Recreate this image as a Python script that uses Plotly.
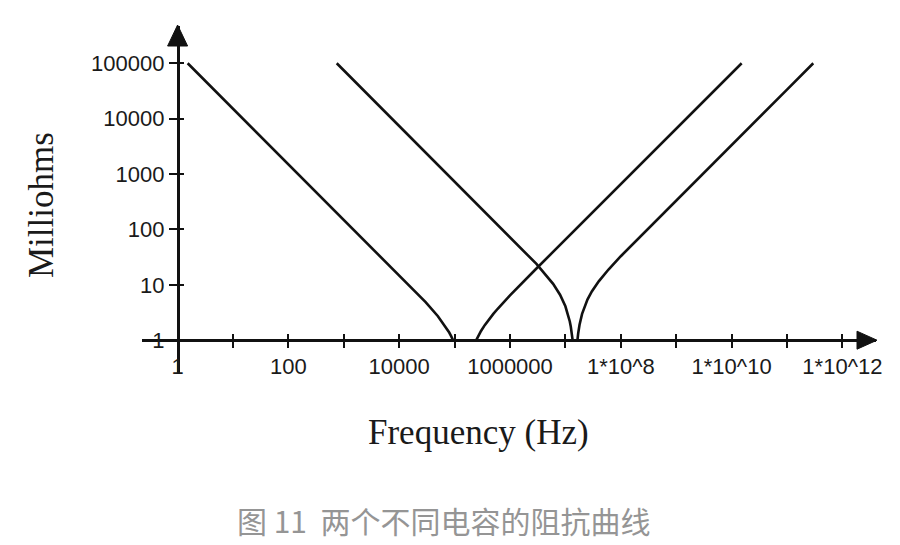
import plotly.graph_objects as go

# ---- data (frequency in Hz, impedance in milliohms) ----
cap1_freq_desc = [1.52, 10, 100, 1000, 1e4, 2e4, 3e4, 5e4, 7e4, 8e4, 8.7e4, 9e4, 9.4e4]
cap1_z_desc = [100000, 15200, 1520, 152, 15.13, 7.47, 4.87, 2.71, 1.71, 1.374, 1.175, 1.097, 1.0]
cap1_freq_asc = [2.46e5, 2.5e5, 2.6e5, 3e5, 3.5e5, 4e5, 5e5, 6e5, 1e6, 3e6, 1e7, 1e8, 1e9, 1e10, 1.52e10]
cap1_z_asc = [1.0, 1.037, 1.126, 1.467, 1.869, 2.252, 2.985, 3.694, 6.427, 19.69, 65.79, 657.9, 6579, 65790, 100000]

cap2_freq_desc = [745, 1e4, 1e5, 1e6, 3e6, 6e6, 8e6, 1e7, 1.1e7, 1.2e7, 1.25e7, 1.3e7, 1.34e7, 1.35e7]
cap2_z_desc = [100000, 7450, 745, 74.2, 23.83, 10.40, 6.625, 4.09, 3.081, 2.18, 1.765, 1.368, 1.063, 1.0]
cap2_freq_asc = [1.65e7, 1.66e7, 1.7e7, 1.8e7, 2e7, 2.5e7, 3e7, 4e7, 6e7, 1e8, 1e9, 1e10, 1e11, 2.98e11]
cap2_z_asc = [1.0, 1.082, 1.32, 1.90, 2.987, 5.41, 7.58, 11.56, 18.9, 32.81, 335.5, 3356, 33557, 100000]

x_tick_vals = [10 ** k for k in range(0, 13)]
x_tick_text = ["1", "", "100", "", "10000", "", "1000000", "", "1*10^8", "", "1*10^10", "", "1*10^12"]
y_tick_vals = [1, 10, 100, 1000, 10000, 100000]
y_tick_text = ["1", "10", "100", "1000", "10000", "100000"]

x_title = "Frequency (Hz)"
y_title = "Milliohms"
caption = "图 11  两个不同电容的阻抗曲线"

# ---- layout geometry ----
X_RANGE = [-0.6426, 12.6065]
Y_RANGE = [-0.6104, 5.6732]
x_pos = (0 - Y_RANGE[0]) / (Y_RANGE[1] - Y_RANGE[0])   # paper y of Z = 1
y_pos = (0 - X_RANGE[0]) / (X_RANGE[1] - X_RANGE[0])   # paper x of f = 1

LINE = "#111111"
TICKFONT = dict(family="Liberation Sans, Arial, sans-serif", size=22, color="#1a1a1a")

fig = go.Figure()
fig.add_trace(go.Scatter(
    x=cap1_freq_desc + [None] + cap1_freq_asc,
    y=cap1_z_desc + [None] + cap1_z_asc,
    mode="lines", line=dict(color=LINE, width=2.6), connectgaps=False,
    xaxis="x", yaxis="y", showlegend=False, hoverinfo="skip"))
fig.add_trace(go.Scatter(
    x=cap2_freq_desc + [None] + cap2_freq_asc,
    y=cap2_z_desc + [None] + cap2_z_asc,
    mode="lines", line=dict(color=LINE, width=2.6), connectgaps=False,
    xaxis="x2", yaxis="y2", showlegend=False, hoverinfo="skip"))

common_x = dict(type="log", range=X_RANGE, showgrid=False, zeroline=False,
                tickvals=x_tick_vals, fixedrange=True)
common_y = dict(type="log", range=Y_RANGE, showgrid=False, zeroline=False,
                tickvals=y_tick_vals, fixedrange=True)

fig.update_layout(
    width=892, height=537,
    margin=dict(l=134, r=24, t=18, b=171),
    paper_bgcolor="white", plot_bgcolor="white",
    xaxis=dict(**common_x, anchor="free", position=x_pos, side="bottom",
               showline=True, linecolor=LINE, linewidth=2.6,
               ticks="outside", ticklen=6, tickwidth=2, tickcolor=LINE,
               ticktext=x_tick_text, tickfont=TICKFONT, ticklabelstandoff=0),
    xaxis2=dict(**common_x, overlaying="x", anchor="free", position=x_pos, side="bottom",
                showline=False, ticks="inside", ticklen=6, tickwidth=2, tickcolor=LINE,
                showticklabels=False),
    yaxis=dict(**common_y, anchor="free", position=y_pos, side="left",
               showline=True, linecolor=LINE, linewidth=2.6,
               ticks="outside", ticklen=8, tickwidth=2, tickcolor=LINE,
               ticktext=y_tick_text, tickfont=TICKFONT),
    yaxis2=dict(**common_y, overlaying="y", anchor="free", position=y_pos, side="left",
                showline=False, ticks="inside", ticklen=5, tickwidth=2, tickcolor=LINE,
                showticklabels=False),
)

# arrowheads at the ends of the axes
fig.add_shape(type="path", xref="paper", yref="paper", xsizemode="pixel", ysizemode="pixel",
              xanchor=1, yanchor=x_pos, path="M 1,0 L -19,9 L -19,-9 Z",
              fillcolor=LINE, line=dict(color=LINE, width=1))
fig.add_shape(type="path", xref="paper", yref="paper", xsizemode="pixel", ysizemode="pixel",
              xanchor=y_pos, yanchor=1, path="M 0,1 L -10,-20 L 10,-20 Z",
              fillcolor=LINE, line=dict(color=LINE, width=1))

# titles and caption
fig.add_annotation(text=x_title, xref="paper", yref="paper", x=0.458, y=-0.167,
                   showarrow=False, xanchor="center", yanchor="middle",
                   font=dict(family="Liberation Serif, Times New Roman, serif", size=35, color="#1a1a1a"))
fig.add_annotation(text=y_title, xref="paper", yref="paper", x=-0.136, y=0.486,
                   showarrow=False, xanchor="center", yanchor="middle", textangle=-90,
                   font=dict(family="Liberation Serif, Times New Roman, serif", size=35, color="#1a1a1a"))
fig.add_annotation(text=caption, xref="paper", yref="paper", x=0.411, y=-0.42,
                   showarrow=False, xanchor="center", yanchor="middle",
                   font=dict(family="Noto Sans CJK SC, sans-serif", size=30, color="#959595"))

fig.write_html("out.html")
